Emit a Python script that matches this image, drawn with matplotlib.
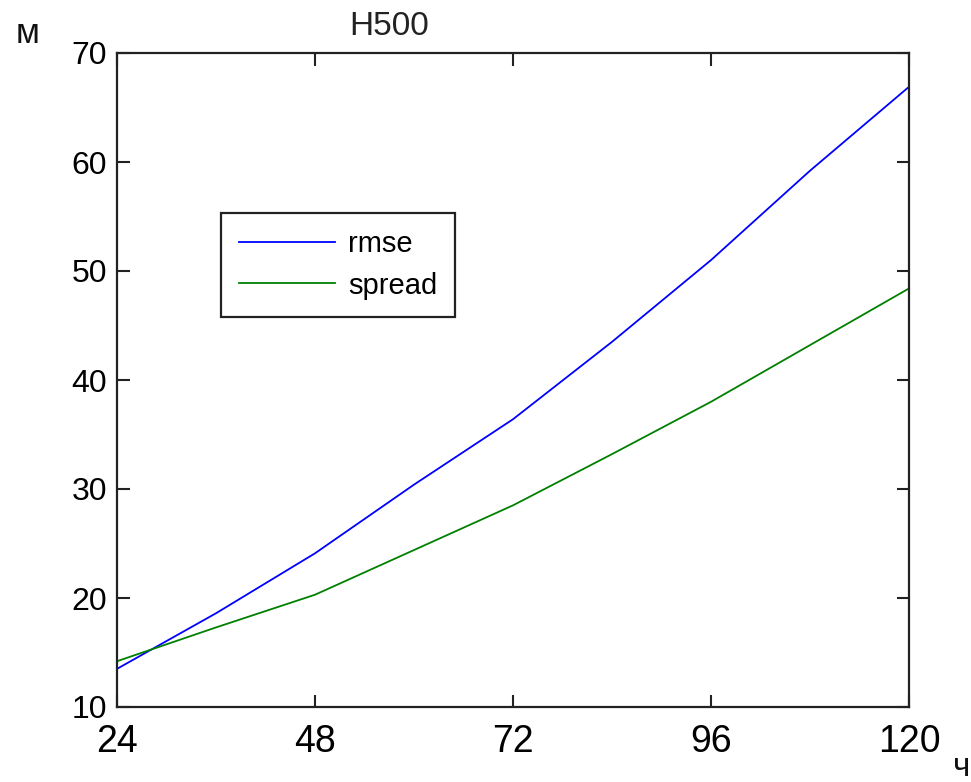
import matplotlib
matplotlib.use("Agg")
import matplotlib.pyplot as plt

# Forecast lead time (hours) and H500 scores (metres)
lead_hours = [24, 36, 48, 60, 72, 84, 96, 108, 120]
rmse = [13.5, 18.6, 24.1, 30.4, 36.4, 43.5, 51.0, 59.2, 66.9]
spread = [14.2, 17.3, 20.3, 24.4, 28.5, 33.2, 38.0, 43.2, 48.4]

x_ticks = [24, 48, 72, 96, 120]
y_ticks = [10, 20, 30, 40, 50, 60, 70]

W, H = 971, 782
fig = plt.figure(figsize=(W / 100, H / 100), dpi=100)
ax = fig.add_axes([117 / W, 1 - 707 / H, (909 - 117) / W, (707 - 53) / H])

ax.plot(lead_hours, rmse, color="#0000ff", lw=1.3, label="rmse")
ax.plot(lead_hours, spread, color="#008000", lw=1.3, label="spread")

ax.set_xlim(24, 120)
ax.set_ylim(10, 70)
ax.set_xticks(x_ticks)
ax.set_yticks(y_ticks)
ax.set_xticklabels([str(t) for t in x_ticks], family="Liberation Sans", fontsize=27)
ax.set_yticklabels([str(t) for t in y_ticks], family="Liberation Sans", fontsize=23)

ax.tick_params(axis="both", direction="in", length=9, width=1.5,
               top=True, right=True, color="#222222")
ax.tick_params(axis="x", pad=12)
ax.tick_params(axis="y", pad=7)
for s in ax.spines.values():
    s.set_linewidth(1.6)
    s.set_color("#222222")

leg = ax.legend(loc="upper left", bbox_to_anchor=((221 - 117) / 792, (707 - 213) / 654),
                borderaxespad=0, fancybox=False, framealpha=1, edgecolor="#222222",
                prop={"family": "Liberation Sans", "size": 21},
                handlelength=3.3, handletextpad=0.45, borderpad=0.6, labelspacing=0.45)
leg.get_frame().set_linewidth(1.6)

fig.text(389 / W, 1 - 35 / H, "H500", ha="center", va="baseline",
         family="Liberation Sans", fontsize=24, color="#222222")
fig.text(16 / W, 1 - 43 / H, "м", ha="left", va="baseline",
         family="Liberation Sans", fontsize=25, color="#111111")
fig.text(953 / W, 1 - 776 / H, "ч", ha="left", va="baseline",
         family="Liberation Sans", fontsize=24, color="#111111")

fig.savefig("out.png", dpi=100)
